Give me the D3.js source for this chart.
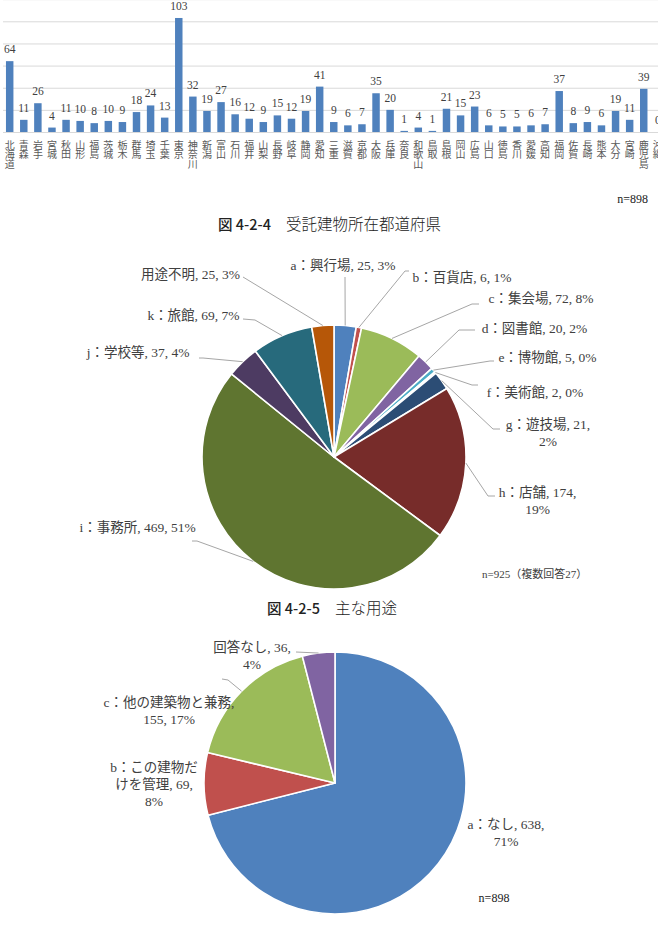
<!DOCTYPE html>
<html><head><meta charset="utf-8">
<script src="https://cdn.jsdelivr.net/npm/d3@7"></script>
<style>body{margin:0;background:#fff} svg{display:block}</style>
</head><body>
<svg id="c" width="658" height="925"></svg>
<script>
// ---------- DATA ----------
const prefectures = ["北海道","青森","岩手","宮城","秋田","山形","福島","茨城","栃木","群馬","埼玉","千葉","東京","神奈川","新潟","富山","石川","福井","山梨","長野","岐阜","静岡","愛知","三重","滋賀","京都","大阪","兵庫","奈良","和歌山","鳥取","島根","岡山","広島","山口","徳島","香川","愛媛","高知","福岡","佐賀","長崎","熊本","大分","宮崎","鹿児島","沖縄"];
const prefValues = [64,11,26,4,11,10,8,10,9,18,24,13,103,32,19,27,16,12,9,15,12,19,41,9,6,7,35,20,1,4,1,21,15,23,6,5,5,6,7,37,8,9,6,19,11,39,0];
const barTicks = [0,20,40,60,80,100,120];

const usageNames = ["a：興行場","b：百貨店","c：集会場","d：図書館","e：博物館","f：美術館","g：遊技場","h：店舗","i：事務所","j：学校等","k：旅館","用途不明"];
const usageValues = [25,6,72,20,5,2,21,174,469,37,69,25];
const usagePct = ["3%","1%","8%","2%","0%","0%","2%","19%","51%","4%","7%","3%"];

const mgmtNames = ["a：なし","b：この建物だけを管理","c：他の建築物と兼務","回答なし"];
const mgmtValues = [638,69,155,36];
const mgmtPct = ["71%","8%","17%","4%"];

const caption1 = ["図 4-2-4", "受託建物所在都道府県"];
const caption2 = ["図 4-2-5", "主な用途"];
const note1 = "n=898";
const note2 = "n=925（複数回答27）";
const note3 = "n=898";

// ---------- STYLE / LAYOUT ----------
const serif = '"Liberation Serif","Noto Sans CJK JP",serif';
const gothic = '"Noto Sans CJK JP",sans-serif';
const textCol = "#404040";
const leadCol = "#a6a6a6";
const palette1 = ["#4F81BD","#C0504D","#9BBB59","#8064A2","#4BACC6","#F79646","#2C4D75","#772C2A","#5F7530","#4D3B62","#276A7C","#B65708"];
const palette2 = ["#4F81BD","#C0504D","#9BBB59","#8064A2"];

const layout1 = [
  {cx:343, y:270, lead:[[345,277]]},
  {cx:462, y:282, lead:[[409,271],[405,271]]},
  {cx:541, y:303, lead:[[479,304],[472,304]]},
  {cx:534.5, y:333, lead:[[475,330],[459,330]]},
  {cx:547.5, y:362, lead:[[494,361],[490,361]]},
  {cx:535, y:397, lead:[[478,385],[472,385]]},
  {cx:548, y:429, brk:["21,"], lead:[[500,429],[493,429]]},
  {cx:537.5, y:497, brk:["174,"], lead:[[495,496],[488,496]]},
  {cx:137.5, y:532, lead:[[192,541],[197,541]]},
  {cx:138, y:357, lead:[[199,358],[203,358]]},
  {cx:193.5, y:320, lead:[[243,319],[255,320]]},
  {cx:190.5, y:279, lead:[[243,277]]}
];
const layout2 = [
  {cx:506, y:829, brk:["638,"]},
  {cx:154, y:772, brk:["だ","69,"]},
  {cx:169, y:707, brk:["兼務,"], lead:[[222,679],[228,680]]},
  {cx:252, y:652, brk:["36,"], lead:[[296,652]]}
];

function splitLines(str, brk){
  if(!brk) return [str];
  const out=[]; let rest=str;
  brk.forEach(b=>{const i=rest.indexOf(b); if(i>=0){out.push(rest.slice(0,i+b.length).trim()); rest=rest.slice(i+b.length);} });
  out.push(rest.trim());
  return out;
}

const svg = d3.select("#c");

// ---------- BAR CHART ----------
const x = d3.scaleBand().domain(prefectures).range([2.65, 2.65 + 47*14.09]).paddingInner(0.47).paddingOuter(0.235);
const y = d3.scaleLinear().domain([0,120]).range([132, 132 - 120*1.107]);

const gb = svg.append("g");
gb.append("g").attr("transform","translate(3,0)")
  .call(d3.axisLeft(y).tickValues(barTicks).tickSize(-660).tickFormat(""))
  .call(g=>g.select(".domain").remove())
  .call(g=>g.selectAll("line").attr("stroke","#d9d9d9").attr("stroke-width",1));

gb.selectAll("rect.bar").data(prefectures).join("rect").attr("class","bar")
  .attr("x",d=>x(d)).attr("width",x.bandwidth())
  .attr("y",(d,i)=>y(prefValues[i])).attr("height",(d,i)=>y(0)-y(prefValues[i]))
  .attr("fill","#4F81BD");

gb.selectAll("text.val").data(prefectures).join("text").attr("class","val")
  .attr("x",d=>x(d)+x.bandwidth()/2).attr("y",(d,i)=>y(prefValues[i])-8)
  .attr("text-anchor","middle").attr("font-family",serif).attr("font-size",11.5)
  .attr("fill",textCol).text((d,i)=>prefValues[i]);

// vertical category labels
gb.selectAll("text.cat").data(prefectures).join("text").attr("class","cat")
  .attr("x",d=>x(d)+x.bandwidth()/2).attr("y",140)
  .style("writing-mode","vertical-rl")
  .style("letter-spacing","-0.4px")
  .attr("font-family",gothic).attr("font-size",10).attr("fill","#595959")
  .text(d=>d);

svg.append("text").attr("x",648).attr("y",203).attr("text-anchor","end")
  .attr("font-family",serif).attr("font-size",12).attr("fill","#222").text(note1);

function caption(x0, yy, parts){
  const t = svg.append("text").attr("x",x0).attr("y",yy).attr("fill","#222");
  t.append("tspan").attr("font-family",gothic).attr("font-weight",500).attr("font-size",14.5).text(parts[0]);
  t.append("tspan").attr("font-family",gothic).attr("font-weight",300).attr("font-size",15.5).attr("dx",15).text(parts[1]);
}
caption(218, 230, caption1);

// ---------- PIES ----------
function drawPie(cx, cy, r, names, values, pcts, palette, layout){
  const g = svg.append("g").attr("transform",`translate(${cx},${cy})`);
  const arcs = d3.pie().sort(null).value(d=>d)(values);
  const arc = d3.arc().innerRadius(0).outerRadius(r);
  g.selectAll("path").data(arcs).join("path").attr("d",arc)
    .attr("fill",(d,i)=>palette[i]).attr("stroke","#fff").attr("stroke-width",1.6).attr("stroke-linejoin","round");
  arcs.forEach((a,i)=>{
    const L = layout[i];
    const mid = (a.startAngle + a.endAngle)/2;
    if(L.lead){
      const pts = L.lead.map(p=>[p[0],p[1]]);
      pts.push([cx + r*Math.sin(mid), cy - r*Math.cos(mid)]);
      svg.append("path").attr("d",d3.line()(pts)).attr("fill","none").attr("stroke",leadCol).attr("stroke-width",1);
    }
    const lines = splitLines(`${names[i]}, ${values[i]}, ${pcts[i]}`, L.brk);
    const t = svg.append("text").attr("x",L.cx).attr("y",L.y).attr("text-anchor","middle")
      .attr("font-family",serif).attr("font-size",13.5).attr("fill",textCol);
    lines.forEach((ln,k)=>t.append("tspan").attr("x",L.cx).attr("dy",k?17:0).text(ln));
  });
}
drawPie(334, 457, 132, usageNames, usageValues, usagePct, palette1, layout1);

svg.append("text").attr("x",482).attr("y",578).attr("font-family",serif).attr("font-size",11).attr("fill",textCol).text(note2);
caption(267, 614, caption2);

drawPie(335, 783, 131, mgmtNames, mgmtValues, mgmtPct, palette2, layout2);
svg.append("text").attr("x",494).attr("y",902).attr("text-anchor","middle").attr("font-family",serif).attr("font-size",12).attr("fill","#222").text(note3);
</script>
</body></html>
